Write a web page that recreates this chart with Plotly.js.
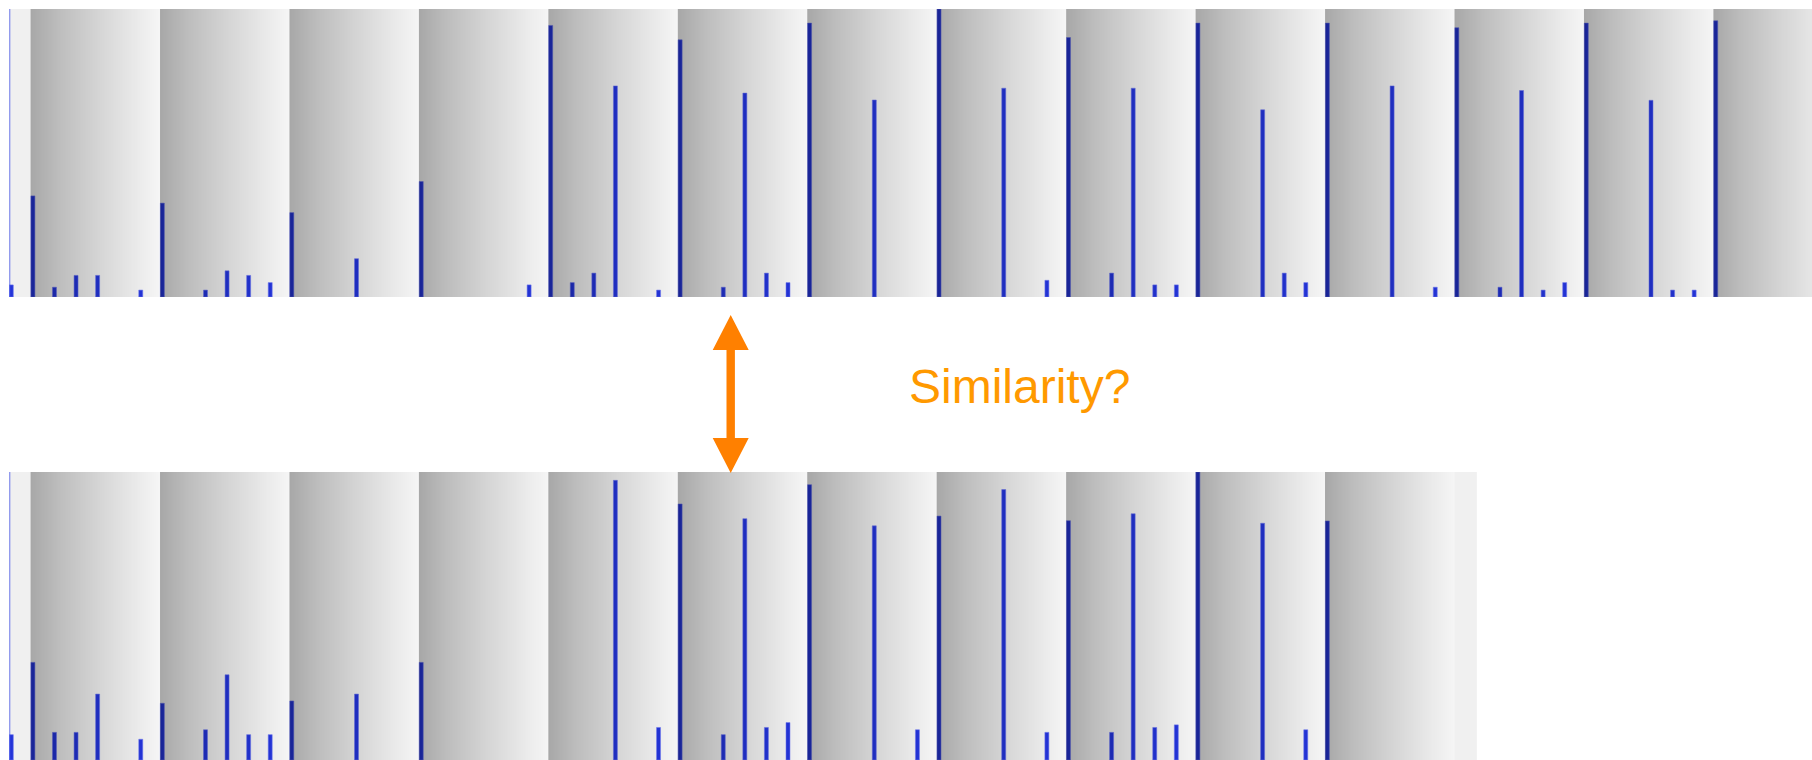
<!DOCTYPE html>
<html>
<head>
<meta charset="utf-8">
<script src="https://cdn.plot.ly/plotly-3.0.1.min.js"></script>
<style>
  html, body { margin: 0; padding: 0; background: #ffffff; }
  #chart { width: 1812px; height: 760px; }
</style>
</head>
<body>
<div id="chart"></div>
<script>
// ---------------- DATA ----------------
// Top sequence: bar height per slot (fraction of panel height), slot index = position
const topValues = [
  0.042, 0.351, 0.034, 0.075, 0.075, 0,     0.024, 0.326, 0,     0.024,
  0.091, 0.075, 0.050, 0.293, 0,     0,     0.133, 0,     0,     0.401,
  0,     0,     0,     0,     0.042, 0.943, 0.050, 0.083, 0.733, 0,
  0.024, 0.893, 0,     0.034, 0.708, 0.083, 0.050, 0.951, 0,     0,
  0.684, 0,     0,     1.000, 0,     0,     0.725, 0,     0.058, 0.901,
  0,     0.083, 0.725, 0.042, 0.042, 0.951, 0,     0,     0.650, 0.083,
  0.050, 0.951, 0,     0,     0.733, 0,     0.034, 0.935, 0,     0.034,
  0.717, 0.024, 0.050, 0.951, 0,     0,     0.683, 0.024, 0.024, 0.959,
  0,     0,     0,     0
];
// Bottom sequence
const bottomValues = [
  0.088, 0.339, 0.096, 0.096, 0.229, 0,     0.072, 0.197, 0,     0.105,
  0.296, 0.088, 0.088, 0.205, 0,     0,     0.229, 0,     0,     0.339,
  0,     0,     0,     0,     0,     0,     0,     0,     0.971, 0,
  0.113, 0.889, 0,     0.088, 0.838, 0.113, 0.130, 0.956, 0,     0,
  0.813, 0,     0.105, 0.847, 0,     0,     0.939, 0,     0.096, 0.831,
  0,     0.096, 0.855, 0.113, 0.122, 1.000, 0,     0,     0.822, 0,
  0.105, 0.830, 0,     0,     0,     0,     0,     0
];
// Measure (shaded band) edges, in slot units (6 slots per measure)
const topBandEdges    = [1, 7, 13, 19, 25, 31, 37, 43, 49, 55, 61, 67, 73, 79, 85];
const bottomBandEdges = [1, 7, 13, 19, 25, 31, 37, 43, 49, 55, 61, 67];
const topSlotCount = 83.57;
const bottomSlotCount = 68.04;
const labelText = "Similarity?";

// ---------------- LAYOUT HELPERS ----------------
const W = 1812, H = 760;
const unitPx = 21.574;     // pixels per slot
const leftPx = 9;          // left edge of both panels
const topPanel = { top: 9, bottom: 297 };
const botPanel = { top: 472, bottom: 760 };

function py(y) { return 1 - y / H; }
function px(x) { return x / W; }

function makeGradient() {
  const c = document.createElement('canvas');
  c.width = 256; c.height = 4;
  const ctx = c.getContext('2d');
  const g = ctx.createLinearGradient(0, 0, 256, 0);
  g.addColorStop(0.00, 'rgba(0,0,0,0.345)');
  g.addColorStop(0.22, 'rgba(0,0,0,0.26)');
  g.addColorStop(0.53, 'rgba(0,0,0,0.165)');
  g.addColorStop(0.84, 'rgba(0,0,0,0.08)');
  g.addColorStop(0.98, 'rgba(0,0,0,0.045)');
  g.addColorStop(1.00, 'rgba(0,0,0,0.04)');
  ctx.fillStyle = g;
  ctx.fillRect(0, 0, 256, 4);
  return c.toDataURL('image/png');
}
const gradURL = makeGradient();

const barColor = 'rgb(38,56,230)';
const barHalo = 'rgba(120,130,255,0.55)';

function barTrace(values, xa, ya) {
  return {
    type: 'bar', xaxis: xa, yaxis: ya,
    x: values.map((v, i) => i),
    y: values.map(v => (v > 0 ? v : null)),
    width: 0.185, offset: 0.015,
    marker: { color: barColor, line: { width: 1, color: barHalo } },
    hoverinfo: 'skip'
  };
}
const traces = [
  barTrace(topValues, 'x', 'y'),
  barTrace(bottomValues, 'x2', 'y2')
];

const images = [];
function addBands(edges, xr, yr) {
  for (let k = 0; k < edges.length - 1; k++) {
    images.push({
      source: gradURL, xref: xr, yref: yr, x: edges[k], y: 1,
      sizex: edges[k + 1] - edges[k], sizey: 1,
      sizing: 'stretch', xanchor: 'left', yanchor: 'top', layer: 'above'
    });
  }
}
addBands(topBandEdges, 'x', 'y');
addBands(bottomBandEdges, 'x2', 'y2');

const shapes = [
  // light lead-in / lead-out strips
  { type: 'rect', xref: 'x', yref: 'y', x0: 0, x1: topBandEdges[0], y0: 0, y1: 1,
    fillcolor: 'rgba(0,0,0,0.06)', line: { width: 0 }, layer: 'above' },
  { type: 'rect', xref: 'x2', yref: 'y2', x0: 0, x1: bottomBandEdges[0], y0: 0, y1: 1,
    fillcolor: 'rgba(0,0,0,0.06)', line: { width: 0 }, layer: 'above' },
  { type: 'rect', xref: 'x2', yref: 'y2',
    x0: bottomBandEdges[bottomBandEdges.length - 1], x1: bottomSlotCount, y0: 0, y1: 1,
    fillcolor: 'rgba(0,0,0,0.06)', line: { width: 0 }, layer: 'above' },
  // faint blue left edges
  { type: 'line', xref: 'x', yref: 'y', x0: 0.03, x1: 0.03, y0: 0, y1: 1,
    line: { color: 'rgba(70,85,235,0.55)', width: 1.5 }, layer: 'above' },
  { type: 'line', xref: 'x2', yref: 'y2', x0: 0.03, x1: 0.03, y0: 0, y1: 1,
    line: { color: 'rgba(70,85,235,0.55)', width: 1.5 }, layer: 'above' }
];

// double-headed orange arrow
(function () {
  const ax = 730.7, t = 315, b = 473, hl = 35, hh = 18, sh = 4.2;
  const pts = [
    [ax, t], [ax + hh, t + hl], [ax + sh, t + hl], [ax + sh, b - hl], [ax + hh, b - hl],
    [ax, b], [ax - hh, b - hl], [ax - sh, b - hl], [ax - sh, t + hl], [ax - hh, t + hl]
  ];
  const path = pts.map((p, i) => (i ? 'L' : 'M') + px(p[0]) + ',' + py(p[1])).join(' ') + ' Z';
  shapes.push({ type: 'path', xref: 'paper', yref: 'paper', path: path,
    fillcolor: '#ff8000', line: { width: 0 }, layer: 'above' });
})();

const axisCommon = { showgrid: false, zeroline: false, showticklabels: false, ticks: '',
  showline: false, fixedrange: true };

const layout = {
  width: W, height: H, autosize: false,
  margin: { l: 0, r: 0, t: 0, b: 0, pad: 0 },
  paper_bgcolor: '#ffffff', plot_bgcolor: '#ffffff',
  showlegend: false, bargap: 0,
  xaxis: Object.assign({}, axisCommon, { domain: [px(leftPx), 1], range: [0, topSlotCount] }),
  yaxis: Object.assign({}, axisCommon, { domain: [py(topPanel.bottom), py(topPanel.top)], range: [0, 1] }),
  xaxis2: Object.assign({}, axisCommon, { anchor: 'y2',
    domain: [px(leftPx), px(leftPx + bottomSlotCount * unitPx)], range: [0, bottomSlotCount] }),
  yaxis2: Object.assign({}, axisCommon, { anchor: 'x2',
    domain: [py(botPanel.bottom), py(botPanel.top)], range: [0, 1] }),
  images: images,
  shapes: shapes,
  annotations: [{
    text: labelText, xref: 'paper', yref: 'paper', x: px(1019), y: py(386),
    xanchor: 'center', yanchor: 'middle', showarrow: false,
    font: { family: 'Liberation Sans, Arial, Helvetica, sans-serif', size: 48, color: '#ff9900' }
  }]
};

Plotly.newPlot('chart', traces, layout, { staticPlot: true, displayModeBar: false });
</script>
</body>
</html>
